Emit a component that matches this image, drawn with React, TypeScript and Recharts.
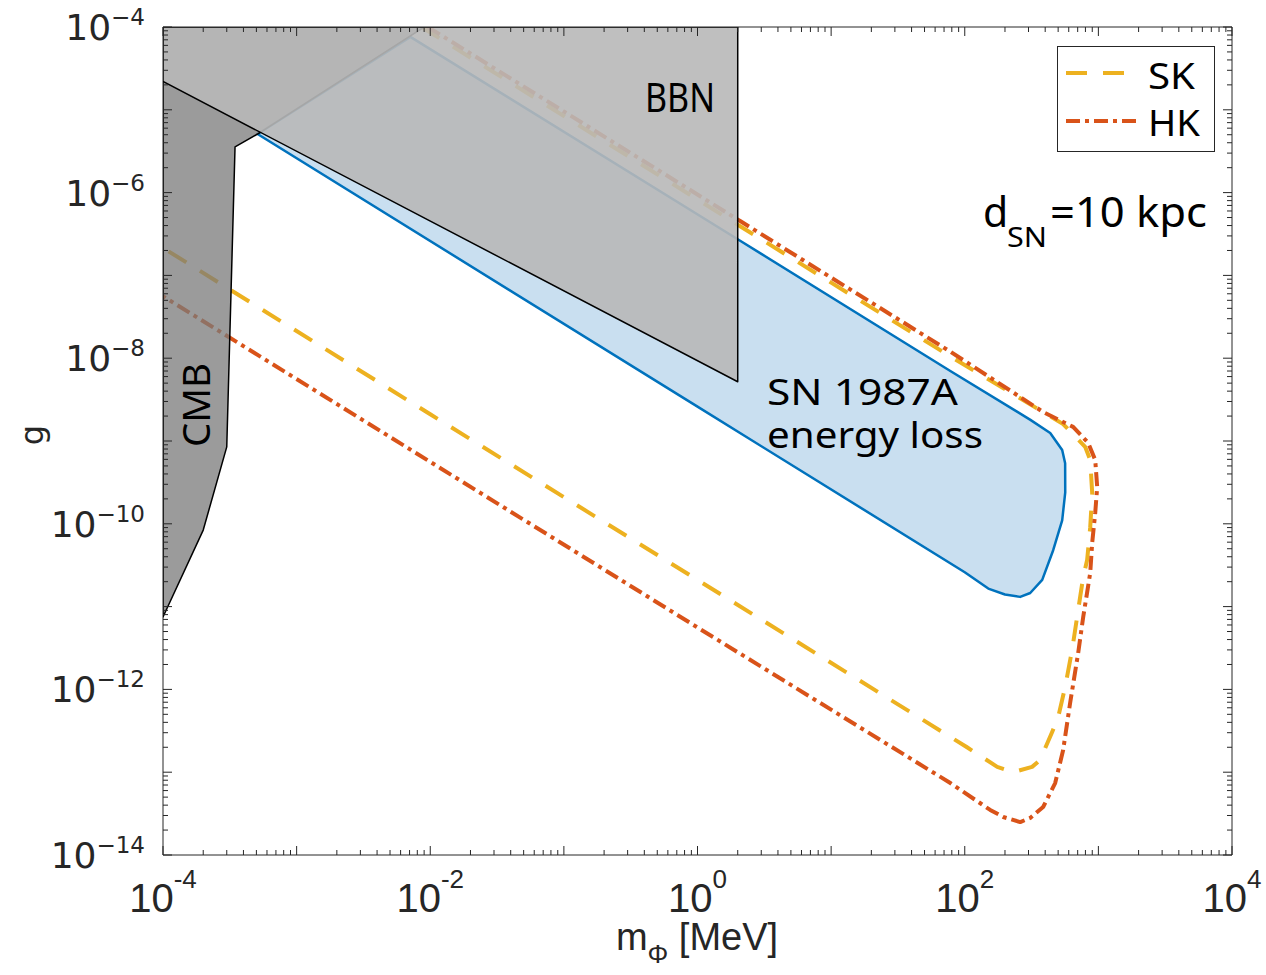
import React from 'react';
import { ScatterChart, Scatter, XAxis, YAxis } from 'recharts';

// ---------- layout ----------
const CHART_W = 1266;
const CHART_H = 975;
const MARGIN = { top: 26, right: 33, bottom: 0, left: 0 };

// ---------- axes / ticks ----------
const X_DOMAIN = [1e-4, 1e4];
const Y_DOMAIN = [1e-14, 1e-4];
const X_DECADES = [-4, -3, -2, -1, 0, 1, 2, 3];
const Y_DECADES = [-14, -13, -12, -11, -10, -9, -8, -7, -6, -5];
const MINOR_STEPS = [1, 2, 3, 4, 5, 6, 7, 8, 9];
const X_TICKS = [...X_DECADES.flatMap((e) => MINOR_STEPS.map((k) => k * Math.pow(10, e))), 1e4];
const Y_TICKS = [...Y_DECADES.flatMap((e) => MINOR_STEPS.map((k) => k * Math.pow(10, e))), 1e-4];
const X_LABEL_EXPONENTS = [-4, -2, 0, 2, 4];
const Y_LABEL_EXPONENTS = [-14, -12, -10, -8, -6, -4];

// ---------- data (m in MeV, g) ----------
const SN1987A = [
  { m: 5.1e-4, g: 5.1e-6 },
  { m: 7.1e-3, g: 7.6e-5 },
  { m: 2.1, g: 2.6e-7 },
  { m: 78, g: 7.0e-9 },
  { m: 310, g: 1.8e-9 },
  { m: 436, g: 1.25e-9 },
  { m: 536, g: 7.8e-10 },
  { m: 564, g: 5.4e-10 },
  { m: 565, g: 2.4e-10 },
  { m: 536, g: 1.1e-10 },
  { m: 459, g: 4.8e-11 },
  { m: 380, g: 2.1e-11 },
  { m: 309, g: 1.46e-11 },
  { m: 260, g: 1.31e-11 },
  { m: 200, g: 1.4e-11 },
  { m: 150, g: 1.65e-11 },
  { m: 100, g: 2.6e-11 },
  { m: 1, g: 2.6e-9 },
];

const SK = [
  { m: 8.6e-3, g: 1e-4 },
  { m: 2.1, g: 3.9e-7 },
  { m: 78, g: 1.05e-8 },
  { m: 545, g: 1.6e-9 },
  { m: 796, g: 8.5e-10 },
  { m: 869, g: 5.9e-10 },
  { m: 899, g: 2.35e-10 },
  { m: 869, g: 9.1e-11 },
  { m: 824, g: 3.65e-11 },
  { m: 770, g: 2.28e-11 },
  { m: 706, g: 9.1e-12 },
  { m: 636, g: 3.0e-12 },
  { m: 564, g: 1.07e-12 },
  { m: 500, g: 4.6e-13 },
  { m: 451, g: 3.06e-13 },
  { m: 366, g: 1.4e-13 },
  { m: 319, g: 1.16e-13 },
  { m: 230, g: 1.0e-13 },
  { m: 175, g: 1.16e-13 },
  { m: 104, g: 2.0e-13 },
  { m: 1, g: 2.1e-11 },
  { m: 1e-2, g: 2.1e-9 },
  { m: 1e-4, g: 2.15e-7 },
];

const HK = [
  { m: 9.6e-3, g: 1e-4 },
  { m: 2.1, g: 4.5e-7 },
  { m: 78, g: 1.2e-8 },
  { m: 386, g: 2.24e-9 },
  { m: 647, g: 1.48e-9 },
  { m: 839, g: 9.5e-10 },
  { m: 947, g: 5.9e-10 },
  { m: 980, g: 2.78e-10 },
  { m: 947, g: 1.35e-10 },
  { m: 899, g: 5.9e-11 },
  { m: 869, g: 2.55e-11 },
  { m: 770, g: 7.5e-12 },
  { m: 706, g: 2.75e-12 },
  { m: 615, g: 6.9e-13 },
  { m: 545, g: 1.85e-13 },
  { m: 475, g: 7.4e-14 },
  { m: 386, g: 3.8e-14 },
  { m: 309, g: 2.8e-14 },
  { m: 260, g: 2.5e-14 },
  { m: 194, g: 2.88e-14 },
  { m: 155, g: 3.5e-14 },
  { m: 78, g: 7.4e-14 },
  { m: 1, g: 5.6e-12 },
  { m: 1e-2, g: 5.6e-10 },
  { m: 1e-4, g: 5.6e-8 },
];

const CMB = [
  { m: 1e-4, g: 1e-4 },
  { m: 9.0e-3, g: 1e-4 },
  { m: 5.1e-4, g: 5.1e-6 },
  { m: 3.46e-4, g: 3.56e-6 },
  { m: 3.0e-4, g: 8.5e-10 },
  { m: 2.0e-4, g: 8.4e-11 },
  { m: 1e-4, g: 7.5e-12 },
];

const BBN = [
  { m: 1e-4, g: 1e-4 },
  { m: 2.0, g: 1e-4 },
  { m: 2.0, g: 5.2e-9 },
  { m: 1e-4, g: 2.2e-5 },
];

// ---------- styles ----------
const AXIS = '#262626';
const SK_COLOR = '#EDB120';
const HK_COLOR = '#D95319';
const SN_STROKE = '#0072BD';
const SN_FILL = '#C9DFF0';
const SK_DASH = '21 16';
const HK_DASH = '14 5 4 5';

function decadeOf(v: number): number | null {
  const e = Math.round(Math.log10(v));
  return Math.abs(v / Math.pow(10, e) - 1) < 1e-6 ? e : null;
}

const BottomTick = (props: any) => {
  const { x, y, payload } = props;
  const e = decadeOf(payload.value);
  const len = e !== null ? 9 : 5;
  return (
    <g>
      <line x1={x} y1={y} x2={x} y2={y - len} stroke={AXIS} strokeWidth={1} />
      {e !== null && X_LABEL_EXPONENTS.includes(e) && (
        <text x={x} y={y + 57} textAnchor="middle" fontFamily="Liberation Sans, Arial, sans-serif" fontSize={40} fill={AXIS}>
          10
          <tspan dy={-24} fontSize={26}>{`${e}`}</tspan>
        </text>
      )}
    </g>
  );
};

const TopTick = (props: any) => {
  const { x, y, payload } = props;
  const e = decadeOf(payload.value);
  const len = e !== null ? 9 : 5;
  return <line x1={x} y1={y} x2={x} y2={y + len} stroke={AXIS} strokeWidth={1} />;
};

const LeftTick = (props: any) => {
  const { x, y, payload } = props;
  const e = decadeOf(payload.value);
  const len = e !== null ? 9 : 5;
  return (
    <g>
      <line x1={x} y1={y} x2={x + len} y2={y} stroke={AXIS} strokeWidth={1} />
      {e !== null && Y_LABEL_EXPONENTS.includes(e) && (
        <text x={x - 18} y={y + 13} textAnchor="end" fontFamily="DejaVu Sans, sans-serif" fontSize={36} fill={AXIS}>
          10
          <tspan dy={-15} fontSize={23}>{`\u2212${Math.abs(e)}`}</tspan>
        </text>
      )}
    </g>
  );
};

const RightTick = (props: any) => {
  const { x, y, payload } = props;
  const e = decadeOf(payload.value);
  const len = e !== null ? 9 : 5;
  return <line x1={x} y1={y} x2={x - len} y2={y} stroke={AXIS} strokeWidth={1} />;
};

type ShapeOpts = {
  fill?: string;
  fillOpacity?: number;
  stroke?: string;
  strokeWidth?: number;
  dash?: string;
  closed?: boolean;
};

const makePath = (opts: ShapeOpts) => (lineProps: any) => {
  const pts: { x: number; y: number }[] = lineProps.points || [];
  const d =
    pts.map((p, i) => `${i ? 'L' : 'M'}${p.x},${p.y}`).join(' ') + (opts.closed ? ' Z' : '');
  return (
    <path
      d={d}
      fill={opts.fill ?? 'none'}
      fillOpacity={opts.fillOpacity ?? 1}
      stroke={opts.stroke ?? 'none'}
      strokeWidth={opts.strokeWidth ?? 1}
      strokeDasharray={opts.dash}
      strokeLinejoin="round"
    />
  );
};

const noDot = () => <g />;

const snPath = makePath({ fill: SN_FILL, stroke: SN_STROKE, strokeWidth: 2.5, closed: true });
const skPath = makePath({ stroke: SK_COLOR, strokeWidth: 4, dash: SK_DASH });
const hkPath = makePath({ stroke: HK_COLOR, strokeWidth: 4, dash: HK_DASH });
const cmbPath = makePath({ fill: '#7a7a7a', fillOpacity: 0.75, stroke: '#000', strokeWidth: 1.5, closed: true });
const bbnPath = makePath({ fill: '#b8b8b8', fillOpacity: 0.9, stroke: '#000', strokeWidth: 1.5, closed: true });

const TEXT_FONT = 'Noto Sans, Open Sans, sans-serif';

export default function App() {
  return (
    <div style={{ position: 'absolute', left: 0, top: 0, width: CHART_W, height: CHART_H }}>
      <ScatterChart width={CHART_W} height={CHART_H} margin={MARGIN}>
        <Scatter data={SN1987A} line={snPath} lineType="joint" shape={noDot} isAnimationActive={false} />
        <Scatter data={SK} line={skPath} lineType="joint" shape={noDot} isAnimationActive={false} />
        <Scatter data={HK} line={hkPath} lineType="joint" shape={noDot} isAnimationActive={false} />
        <Scatter data={CMB} line={cmbPath} lineType="joint" shape={noDot} isAnimationActive={false} />
        <Scatter data={BBN} line={bbnPath} lineType="joint" shape={noDot} isAnimationActive={false} />

        <XAxis
          dataKey="m"
          type="number"
          scale="log"
          domain={X_DOMAIN}
          allowDataOverflow
          ticks={X_TICKS}
          interval={0}
          tickSize={0}
          tickMargin={0}
          tickLine={false}
          tick={<BottomTick />}
          height={120}
          axisLine={{ stroke: AXIS, strokeWidth: 1 }}
        />
        <XAxis
          xAxisId="top"
          orientation="top"
          dataKey="m"
          type="number"
          scale="log"
          domain={X_DOMAIN}
          allowDataOverflow
          ticks={X_TICKS}
          interval={0}
          tickSize={0}
          tickMargin={0}
          tickLine={false}
          tick={<TopTick />}
          height={1}
          axisLine={{ stroke: AXIS, strokeWidth: 1 }}
        />
        <YAxis
          dataKey="g"
          type="number"
          scale="log"
          domain={Y_DOMAIN}
          allowDataOverflow
          ticks={Y_TICKS}
          interval={0}
          tickSize={0}
          tickMargin={0}
          tickLine={false}
          tick={<LeftTick />}
          width={163}
          axisLine={{ stroke: AXIS, strokeWidth: 1 }}
        />
        <YAxis
          yAxisId="right"
          orientation="right"
          dataKey="g"
          type="number"
          scale="log"
          domain={Y_DOMAIN}
          allowDataOverflow
          ticks={Y_TICKS}
          interval={0}
          tickSize={0}
          tickMargin={0}
          tickLine={false}
          tick={<RightTick />}
          width={1}
          axisLine={{ stroke: AXIS, strokeWidth: 1 }}
        />
      </ScatterChart>

      <svg
        width={CHART_W}
        height={CHART_H}
        style={{ position: 'absolute', left: 0, top: 0, pointerEvents: 'none' }}
      >
        {/* region labels */}
        <text x={645} y={112} fontFamily={TEXT_FONT} fontSize={40} fill="#000" textLength={70} lengthAdjust="spacingAndGlyphs">
          BBN
        </text>
        <text
          x={210}
          y={447}
          transform="rotate(-90 210 447)"
          fontFamily={TEXT_FONT}
          fontSize={39}
          fill="#000"
          textLength={84}
          lengthAdjust="spacingAndGlyphs"
        >
          CMB
        </text>
        <text x={767} y={405} fontFamily={TEXT_FONT} fontSize={36} fill="#000" textLength={191} lengthAdjust="spacingAndGlyphs">
          SN 1987A
        </text>
        <text x={767} y={448} fontFamily={TEXT_FONT} fontSize={36} fill="#000" textLength={216} lengthAdjust="spacingAndGlyphs">
          energy loss
        </text>
        <text x={983} y={227} fontFamily={TEXT_FONT} fontSize={41} fill="#000">
          d
        </text>
        <text x={1007} y={247} fontFamily={TEXT_FONT} fontSize={27} fill="#000" textLength={40} lengthAdjust="spacingAndGlyphs">
          SN
        </text>
        <text x={1050} y={227} fontFamily={TEXT_FONT} fontSize={41} fill="#000" textLength={157} lengthAdjust="spacingAndGlyphs">
          =10 kpc
        </text>

        {/* legend */}
        <rect x={1057.5} y={46.5} width={157} height={105} fill="#fff" stroke={AXIS} strokeWidth={1} />
        <line x1={1066} y1={73} x2={1140} y2={73} stroke={SK_COLOR} strokeWidth={4} strokeDasharray={SK_DASH} />
        <text x={1148} y={89} fontFamily={TEXT_FONT} fontSize={36} fill="#000" textLength={47} lengthAdjust="spacingAndGlyphs">
          SK
        </text>
        <line x1={1066} y1={121} x2={1140} y2={121} stroke={HK_COLOR} strokeWidth={4} strokeDasharray={HK_DASH} />
        <text x={1148} y={136} fontFamily={TEXT_FONT} fontSize={36} fill="#000" textLength={52} lengthAdjust="spacingAndGlyphs">
          HK
        </text>

        {/* axis titles */}
        <text x={697} y={950} textAnchor="middle" fontFamily="Liberation Sans, Arial, sans-serif" fontSize={38} fill={AXIS}>
          m
          <tspan dy={13} fontSize={26}>Φ</tspan>
          <tspan dy={-13}> [MeV]</tspan>
        </text>
        <text
          x={43}
          y={435}
          transform="rotate(-90 43 435)"
          textAnchor="middle"
          fontFamily="DejaVu Sans, sans-serif"
          fontSize={32}
          fill={AXIS}
        >
          g
        </text>
      </svg>
    </div>
  );
}
